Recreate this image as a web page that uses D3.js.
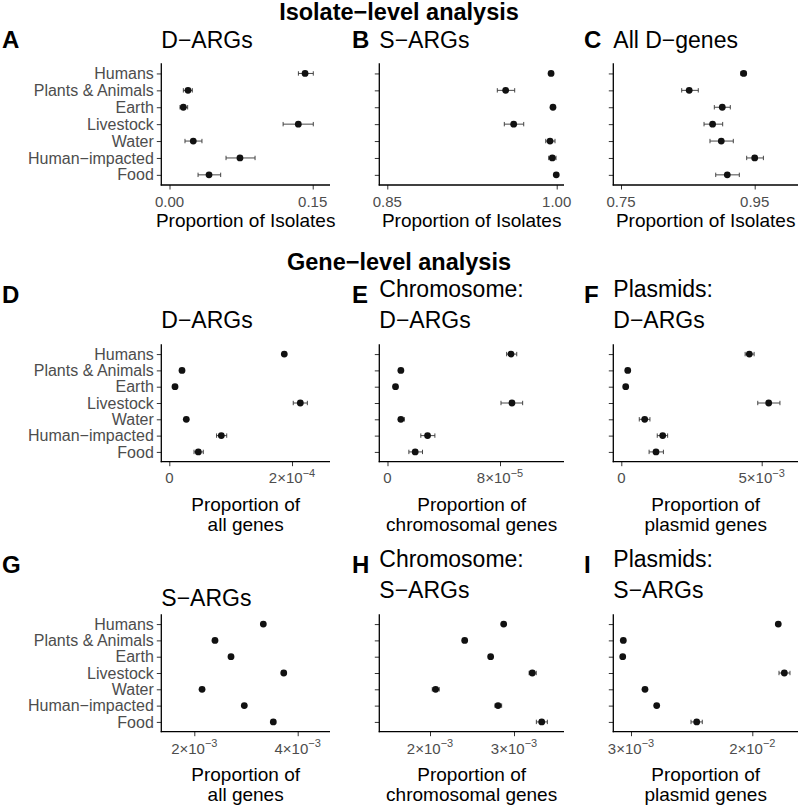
<!DOCTYPE html>
<html>
<head>
<meta charset="utf-8">
<script src="https://cdn.jsdelivr.net/npm/d3@7"></script>
<style>
  body { margin: 0; background: #fff; }
  text { font-family: "Liberation Sans", Arial, Helvetica, sans-serif; }
</style>
</head>
<body>
<div id="chart"></div>
<script>
// categories (top to bottom)
let categories = ["Humans", "Plants & Animals", "Earth", "Livestock", "Water", "Human\u2212impacted", "Food"];

// A: isolates with D-ARGs
let isoDargEst = [0.142, 0.0194, 0.0145, 0.1349, 0.0249, 0.0738, 0.0414];
let isoDargLo  = [0.135, 0.0145, 0.011, 0.119, 0.0162, 0.0592, 0.0299];
let isoDargHi  = [0.1506, 0.0239, 0.019, 0.1506, 0.034, 0.0896, 0.0536];

// B: isolates with S-ARGs
let isoSargEst = [0.995, 0.9548, 0.9967, 0.9619, 0.9941, 0.9961, 0.9996];
let isoSargLo  = [0.994, 0.9474, 0.996, 0.9536, 0.9903, 0.9929, 0.999];
let isoSargHi  = [0.996, 0.9628, 0.9974, 0.9708, 0.9985, 0.9994, 1.0];

// C: isolates with any D-gene
let isoDgeneEst = [0.9335, 0.852, 0.9015, 0.887, 0.900, 0.950, 0.909];
let isoDgeneLo  = [0.929, 0.8408, 0.8896, 0.8742, 0.8831, 0.938, 0.8917];
let isoDgeneHi  = [0.937, 0.8656, 0.9135, 0.9021, 0.918, 0.963, 0.927];

// D: D-ARGs / all genes
let allDargEst = [1.874e-4, 2.07e-5, 9.3e-6, 2.135e-4, 2.77e-5, 8.48e-5, 4.73e-5];
let allDargLo  = [1.85e-4, 1.95e-5, 8.5e-6, 2.02e-4, 2.65e-5, 7.7e-5, 4.03e-5];
let allDargHi  = [1.90e-4, 2.2e-5, 1.0e-5, 2.25e-4, 2.9e-5, 9.36e-5, 5.54e-5];

// E: D-ARGs / chromosomal genes
let chrDargEst = [8.78e-5, 9.5e-6, 5.7e-6, 8.85e-5, 9.5e-6, 2.85e-5, 1.97e-5];
let chrDargLo  = [8.47e-5, 8.5e-6, 5.0e-6, 8.07e-5, 7.8e-6, 2.37e-5, 1.52e-5];
let chrDargHi  = [9.19e-5, 1.05e-5, 6.4e-6, 9.61e-5, 1.2e-5, 3.37e-5, 2.49e-5];

// F: D-ARGs / plasmid genes
let plaDargEst = [4.56e-3, 2.3e-4, 1.57e-4, 5.25e-3, 8.33e-4, 1.474e-3, 1.236e-3];
let plaDargLo  = [4.41e-3, 2.0e-4, 1.3e-4, 4.86e-3, 6.4e-4, 1.28e-3, 9.9e-4];
let plaDargHi  = [4.73e-3, 2.6e-4, 1.8e-4, 5.65e-3, 1.02e-3, 1.65e-3, 1.50e-3];

// G: S-ARGs / all genes
let allSargEst = [3.335e-3, 2.40e-3, 2.71e-3, 3.73e-3, 2.15e-3, 2.967e-3, 3.528e-3];
let allSargLo  = [3.325e-3, 2.39e-3, 2.70e-3, 3.72e-3, 2.14e-3, 2.957e-3, 3.518e-3];
let allSargHi  = [3.345e-3, 2.41e-3, 2.72e-3, 3.74e-3, 2.16e-3, 2.977e-3, 3.538e-3];

// H: S-ARGs / chromosomal genes
let chrSargEst = [2.877e-3, 2.413e-3, 2.722e-3, 3.218e-3, 2.067e-3, 2.81e-3, 3.33e-3];
let chrSargLo  = [2.865e-3, 2.403e-3, 2.712e-3, 3.18e-3, 2.027e-3, 2.774e-3, 3.266e-3];
let chrSargHi  = [2.889e-3, 2.423e-3, 2.732e-3, 3.265e-3, 2.11e-3, 2.853e-3, 3.397e-3];

// I: S-ARGs / plasmid genes
let plaSargEst = [0.02364, 0.00192, 0.00184, 0.02449, 0.00496, 0.0066, 0.01221];
let plaSargLo  = [0.0234, 0.0018, 0.0017, 0.02374, 0.0048, 0.0064, 0.01141];
let plaSargHi  = [0.0239, 0.0020, 0.0019, 0.02528, 0.0051, 0.0068, 0.01299];

// tick values and labels per panel
let ticksA = [0, 0.15],      labelsA = ["0.00", "0.15"];
let ticksB = [0.85, 1.0],    labelsB = ["0.85", "1.00"];
let ticksC = [0.75, 0.95],   labelsC = ["0.75", "0.95"];
let ticksD = [0, 2e-4],      labelsD = ["0", "2\u00d710^\u22124"];
let ticksE = [0, 8e-5],      labelsE = ["0", "8\u00d710^\u22125"];
let ticksF = [0, 5e-3],      labelsF = ["0", "5\u00d710^\u22123"];
let ticksG = [2e-3, 4e-3],   labelsG = ["2\u00d710^\u22123", "4\u00d710^\u22123"];
let ticksH = [2e-3, 3e-3],   labelsH = ["2\u00d710^\u22123", "3\u00d710^\u22123"];
let ticksI = [3e-3, 2e-2],   labelsI = ["3\u00d710^\u22123", "2\u00d710^\u22122"];

let svgWidth = 800;
let svgHeight = 806;

let svg = d3.select("#chart")
    .append("svg")
    .attr("width", svgWidth)
    .attr("height", svgHeight);

// layout of the grid
let cols = [
    {x0: 161.3, x1: 330, tagX: 2},
    {x0: 379.3, x1: 564, tagX: 352},
    {x0: 613.3, x1: 798, tagX: 584}
];
let rows = [
    {y0: 63.3, y1: 185, tagY: 47.7, titleY: [47.7], tickY: 21.5, axisY: [41.7]},
    {y0: 344.3, y1: 461.7, tagY: 303.3, titleY: [296.7, 328.3], tickY: 21.5, axisY: [49, 69.5]},
    {y0: 614.3, y1: 731.7, tagY: 573.3, titleY: [566.7, 598.3], tickY: 22, axisY: [49, 69.5]}
];

let panels = [
    {tag: "A", row: 0, col: 0, title: ["D\u2212ARGs"], axis: ["Proportion of Isolates"],
     est: isoDargEst, lo: isoDargLo, hi: isoDargHi, domain: [-0.00859, 0.1681], ticks: ticksA, labels: labelsA},
    {tag: "B", row: 0, col: 1, title: ["S\u2212ARGs"], axis: ["Proportion of Isolates"],
     est: isoSargEst, lo: isoSargLo, hi: isoSargHi, domain: [0.84292, 1.00646], ticks: ticksB, labels: labelsB},
    {tag: "C", row: 0, col: 2, title: ["All D\u2212genes"], axis: ["Proportion of Isolates"],
     est: isoDgeneEst, lo: isoDgeneLo, hi: isoDgeneHi, domain: [0.73848, 1.01477], ticks: ticksC, labels: labelsC},
    {tag: "D", row: 1, col: 0, title: ["", "D\u2212ARGs"], axis: ["Proportion of", "all genes"],
     est: allDargEst, lo: allDargLo, hi: allDargHi, domain: [-1.304e-5, 2.619e-4], ticks: ticksD, labels: labelsD},
    {tag: "E", row: 1, col: 1, title: ["Chromosome:", "D\u2212ARGs"], axis: ["Proportion of", "chromosomal genes"],
     est: chrDargEst, lo: chrDargLo, hi: chrDargHi, domain: [-5.83e-6, 1.2551e-4], ticks: ticksE, labels: labelsE},
    {tag: "F", row: 1, col: 2, title: ["Plasmids:", "D\u2212ARGs"], axis: ["Proportion of", "plasmid genes"],
     est: plaDargEst, lo: plaDargLo, hi: plaDargHi, domain: [-2.85e-4, 6.293e-3], ticks: ticksF, labels: labelsF},
    {tag: "G", row: 2, col: 0, title: ["", "S\u2212ARGs"], titleShift: 8, axis: ["Proportion of", "all genes"],
     est: allSargEst, lo: allSargLo, hi: allSargHi, domain: [1.3617e-3, 4.6248e-3], ticks: ticksG, labels: labelsG},
    {tag: "H", row: 2, col: 1, title: ["Chromosome:", "S\u2212ARGs"], axis: ["Proportion of", "chromosomal genes"],
     est: chrSargEst, lo: chrSargLo, hi: chrSargHi, domain: [1.3964e-3, 3.5952e-3], ticks: ticksH, labels: labelsH},
    {tag: "I", row: 2, col: 2, title: ["Plasmids:", "S\u2212ARGs"], axis: ["Proportion of", "plasmid genes"],
     est: plaSargEst, lo: plaSargLo, hi: plaSargHi, domain: [5.19e-4, 0.026405], ticks: ticksI, labels: labelsI}
];

let grey = "#4d4d4d";

// section headings
svg.append("text")
    .attr("x", 399).attr("y", 20)
    .attr("text-anchor", "middle")
    .attr("font-size", 23.5).attr("font-weight", "bold")
    .text("Isolate\u2212level analysis");

svg.append("text")
    .attr("x", 399).attr("y", 270)
    .attr("text-anchor", "middle")
    .attr("font-size", 23.5).attr("font-weight", "bold")
    .text("Gene\u2212level analysis");

// writes "2×10^−4" as base + superscript
function tickLabel(sel, str) {
    let parts = str.split("^");
    sel.append("tspan").text(parts[0]);
    if (parts.length > 1) {
        sel.append("tspan")
            .attr("dy", -6.5)
            .attr("font-size", 11)
            .text(parts[1]);
    }
}

panels.forEach(p => {
    let c = cols[p.col];
    let r = rows[p.row];

    let x = d3.scaleLinear().domain(p.domain).range([c.x0, c.x1]);
    let y = d3.scalePoint().domain(categories).range([r.y0, r.y1]).padding(0.6);

    let g = svg.append("g");

    // tag letter
    g.append("text")
        .attr("x", c.tagX).attr("y", r.tagY)
        .attr("font-size", 24).attr("font-weight", "bold")
        .text(p.tag);

    // title lines
    p.title.forEach((t, i) => {
        g.append("text")
            .attr("x", c.x0).attr("y", r.titleY[i] + (p.titleShift || 0))
            .attr("font-size", 23)
            .text(t);
    });

    // y axis
    let leftAxis = d3.axisLeft(y).tickSize(4.5).tickPadding(3);
    let yAxis = g.append("g")
        .attr("transform", `translate(${c.x0},0)`)
        .call(leftAxis);
    yAxis.select(".domain").remove();
    yAxis.selectAll(".tick line").attr("stroke", "#333").attr("stroke-width", 1);
    yAxis.selectAll(".tick text")
        .attr("fill", grey)
        .attr("font-size", 16)
        .style("font-family", "'Liberation Sans', Arial, sans-serif");
    if (p.col !== 0) yAxis.selectAll(".tick text").remove();

    // x axis
    let bottomAxis = d3.axisBottom(x).tickValues(p.ticks).tickSize(4.5).tickFormat("");
    let xAxis = g.append("g")
        .attr("transform", `translate(0,${r.y1})`)
        .call(bottomAxis);
    xAxis.select(".domain").remove();
    xAxis.selectAll(".tick line").attr("stroke", "#333").attr("stroke-width", 1);

    p.ticks.forEach((v, i) => {
        let t = g.append("text")
            .attr("x", x(v)).attr("y", r.y1 + r.tickY)
            .attr("text-anchor", "middle")
            .attr("font-size", 15)
            .attr("fill", grey);
        tickLabel(t, p.labels[i]);
    });

    // axis lines
    g.append("line")
        .attr("x1", c.x0).attr("x2", c.x0)
        .attr("y1", r.y0).attr("y2", r.y1 + 0.6)
        .attr("stroke", "#000").attr("stroke-width", 1.3);
    g.append("line")
        .attr("x1", c.x0 - 0.6).attr("x2", c.x1)
        .attr("y1", r.y1).attr("y2", r.y1)
        .attr("stroke", "#000").attr("stroke-width", 1.3);

    // axis title
    p.axis.forEach((t, i) => {
        g.append("text")
            .attr("x", (c.x0 + c.x1) / 2).attr("y", r.y1 + r.axisY[i])
            .attr("text-anchor", "middle")
            .attr("font-size", 19)
            .text(t);
    });

    // error bars
    let bars = g.selectAll(".bar")
        .data(categories)
        .enter()
        .append("g")
        .attr("class", "bar");

    bars.append("line")
        .attr("x1", (d, i) => x(p.lo[i]))
        .attr("x2", (d, i) => x(p.hi[i]))
        .attr("y1", d => y(d)).attr("y2", d => y(d))
        .attr("stroke", "#333").attr("stroke-width", 0.9);
    bars.append("line")
        .attr("x1", (d, i) => x(p.lo[i])).attr("x2", (d, i) => x(p.lo[i]))
        .attr("y1", d => y(d) - 2.2).attr("y2", d => y(d) + 2.2)
        .attr("stroke", "#333").attr("stroke-width", 0.9);
    bars.append("line")
        .attr("x1", (d, i) => x(p.hi[i])).attr("x2", (d, i) => x(p.hi[i]))
        .attr("y1", d => y(d) - 2.2).attr("y2", d => y(d) + 2.2)
        .attr("stroke", "#333").attr("stroke-width", 0.9);

    // points
    g.selectAll(".pt")
        .data(categories)
        .enter()
        .append("circle")
        .attr("class", "pt")
        .attr("cx", (d, i) => x(p.est[i]))
        .attr("cy", d => y(d))
        .attr("r", 3.4)
        .attr("fill", "#111");
});
</script>
</body>
</html>
